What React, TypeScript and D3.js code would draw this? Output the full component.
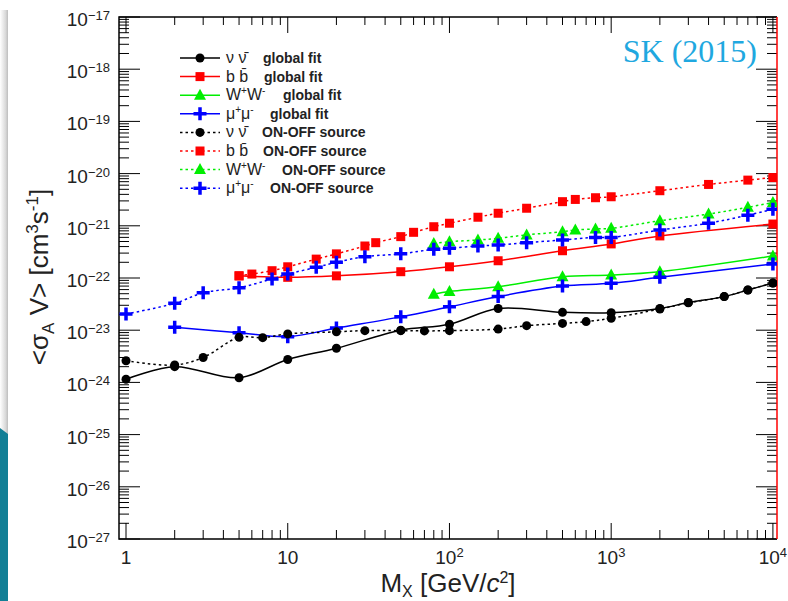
import React from "react";
import * as d3 from "d3";

// masses in GeV/c^2, cross sections in cm^3 s^-1
const massNuFit = [1, 2, 5, 10, 20, 50, 100, 200, 500, 1000, 2000, 3000, 5000, 7000, 10000];
const nuFit = [1.15e-24, 2.0e-24, 1.23e-24, 2.75e-24, 4.5e-24, 1.0e-23, 1.3e-23, 2.6e-23, 2.2e-23, 2.16e-23, 2.6e-23, 3.4e-23, 4.4e-23, 5.9e-23, 8.0e-23];

const massBFit = [5, 10, 20, 50, 100, 200, 500, 1000, 2000, 10000];
const bFit = [1.1e-22, 1.03e-22, 1.1e-22, 1.32e-22, 1.64e-22, 2.14e-22, 3.33e-22, 4.5e-22, 6.4e-22, 1.08e-21];

const massWFit = [80, 100, 200, 500, 1000, 2000, 10000];
const wFit = [4.9e-23, 5.5e-23, 6.8e-23, 1.06e-22, 1.14e-22, 1.32e-22, 2.64e-22];

const massMuFit = [2, 5, 10, 20, 50, 100, 200, 500, 1000, 2000, 10000];
const muFit = [1.14e-23, 8.95e-24, 7.5e-24, 1.1e-23, 1.8e-23, 2.8e-23, 4.4e-23, 7.0e-23, 7.9e-23, 1.03e-22, 1.85e-22];

const massNuOnOff = [1, 2, 3, 5, 7, 10, 20, 30, 50, 70, 100, 200, 300, 500, 700, 1000, 2000, 3000, 5000, 7000, 10000];
const nuOnOff = [2.6e-24, 2.15e-24, 3.0e-24, 7.3e-24, 7.2e-24, 8.5e-24, 9.3e-24, 9.8e-24, 9.8e-24, 9.7e-24, 9.8e-24, 1.05e-23, 1.22e-23, 1.35e-23, 1.46e-23, 1.69e-23, 2.55e-23, 3.35e-23, 4.4e-23, 5.9e-23, 8.0e-23];

const massBOnOff = [5, 6, 8, 10, 15, 20, 30, 35, 50, 60, 80, 100, 150, 200, 300, 500, 600, 800, 1000, 2000, 4000, 7000, 10000];
const bOnOff = [1.1e-22, 1.19e-22, 1.38e-22, 1.64e-22, 2.3e-22, 2.9e-22, 4.1e-22, 4.75e-22, 6.2e-22, 7.5e-22, 9.6e-22, 1.12e-21, 1.46e-21, 1.74e-21, 2.17e-21, 2.9e-21, 3.2e-21, 3.45e-21, 3.6e-21, 4.7e-21, 6.2e-21, 7.5e-21, 8.4e-21];

const massWOnOff = [80, 100, 150, 200, 300, 500, 600, 800, 1000, 2000, 4000, 7000, 10000];
const wOnOff = [4.6e-22, 4.96e-22, 5.35e-22, 5.75e-22, 6.7e-22, 7.7e-22, 8.3e-22, 8.7e-22, 8.95e-22, 1.25e-21, 1.68e-21, 2.26e-21, 2.8e-21];

const massMuOnOff = [1, 2, 3, 5, 8, 10, 15, 20, 30, 50, 80, 100, 150, 200, 300, 500, 800, 1000, 2000, 4000, 7000, 10000];
const muOnOff = [2.04e-23, 3.27e-23, 5.2e-23, 6.5e-23, 9.6e-23, 1.19e-22, 1.6e-22, 2.0e-22, 2.56e-22, 2.9e-22, 3.55e-22, 3.7e-22, 4.1e-22, 4.3e-22, 4.75e-22, 5.35e-22, 6.0e-22, 6.0e-22, 8.3e-22, 1.12e-21, 1.6e-21, 2.07e-21];

const particles = ["ν ν̄", "b b̄", "W+W-", "μ+μ-"];
const fitLabel = "global fit";
const onOffLabel = "ON-OFF source";
const xTickPowers = [0, 1, 2, 3, 4];
const yTickPowers = [-27, -26, -25, -24, -23, -22, -21, -20, -19, -18, -17];

const W = 788, H = 601;
const left = 119, right = 777, top = 17, bottom = 539;

const x = d3.scaleLog().domain([0.905, 10600]).range([left, right]);
const y = d3.scaleLog().domain([1e-27, 1e-17]).range([bottom, top]);

type MarkerType = "circle" | "square" | "triangle" | "plus";

const colors = ["#000000", "#ff0000", "#00ee00", "#0000ff"];
const markers: MarkerType[] = ["circle", "square", "triangle", "plus"];

const fitSeries = [
  { m: massNuFit, v: nuFit },
  { m: massBFit, v: bFit },
  { m: massWFit, v: wFit },
  { m: massMuFit, v: muFit },
];
const onOffSeries = [
  { m: massNuOnOff, v: nuOnOff },
  { m: massBOnOff, v: bOnOff },
  { m: massWOnOff, v: wOnOff },
  { m: massMuOnOff, v: muOnOff },
];

const series = [
  ...fitSeries.map((s, i) => ({ ...s, color: colors[i], marker: markers[i], dotted: false, i })),
  ...onOffSeries.map((s, i) => ({ ...s, color: colors[i], marker: markers[i], dotted: true, i })),
];

const line = d3
  .line<[number, number]>()
  .x((d) => x(d[0]))
  .y((d) => y(d[1]))
  .curve(d3.curveCatmullRom.alpha(0.5));

const Marker = ({ type, cx, cy, color }: { type: MarkerType; cx: number; cy: number; color: string }) => {
  if (type === "circle") return <circle cx={cx} cy={cy} r={4.5} fill={color} />;
  if (type === "square") return <rect x={cx - 4.5} y={cy - 4.5} width={9} height={9} fill={color} />;
  if (type === "triangle")
    return <path d={`M${cx},${cy - 6.5}L${cx + 6},${cy + 4.5}L${cx - 6},${cy + 4.5}Z`} fill={color} />;
  return (
    <path d={`M${cx - 6.5},${cy}H${cx + 6.5}M${cx},${cy - 6.5}V${cy + 6.5}`} stroke={color} strokeWidth={3.5} />
  );
};

const ParticleLabel = ({ name }: { name: string }) => {
  if (name.includes("+")) {
    const base = name[0];
    return (
      <>
        <tspan>{base}</tspan>
        <tspan dy={-6} fontSize={10}>+</tspan>
        <tspan dy={6}>{base}</tspan>
        <tspan dy={-6} fontSize={10}>-</tspan>
        <tspan dy={6}></tspan>
      </>
    );
  }
  return <tspan>{name}</tspan>;
};

const App = () => {
  const font = "'Liberation Sans', Arial, Helvetica, sans-serif";

  // log ticks
  const xMinor: number[] = [];
  for (let p = 0; p < 4; p++) for (let k = 2; k <= 9; k++) xMinor.push(k * Math.pow(10, p));
  const yMinor: number[] = [];
  for (let p = -27; p < -17; p++) for (let k = 2; k <= 9; k++) yMinor.push(k * Math.pow(10, p));

  const legendY0 = 58, legendStep = 18.6;
  const descX = [263, 264, 283, 270];
  const descXOn = [262, 263, 282, 270];

  return (
    <svg width={W} height={H} style={{ position: "absolute", left: 0, top: 0, background: "#fff" }} fontFamily={font}>
      <defs>
        <linearGradient id="shadow" x1="0" x2="1" y1="0" y2="0">
          <stop offset="0" stopColor="#ffffff" />
          <stop offset="0.7" stopColor="#d9d9d9" />
          <stop offset="1" stopColor="#bdbdbd" />
        </linearGradient>
        <clipPath id="plotClip">
          <rect x={left} y={top} width={right - left} height={bottom - top} />
        </clipPath>
      </defs>
      <rect x={0} y={0} width={W} height={H} fill="#fff" />
      <rect x={0} y={10} width={8} height={425} fill="url(#shadow)" />
      <path d="M0,428L8,434L8,601L0,601Z" fill="#127f96" />

      {/* ticks */}
      <g stroke="#000" strokeWidth={1}>
        {yTickPowers.map((p) => {
          const yy = y(Math.pow(10, p));
          return (
            <g key={"yt" + p}>
              <line x1={left} x2={left + 21} y1={yy} y2={yy} />
              <line x1={right} x2={right - 21} y1={yy} y2={yy} />
            </g>
          );
        })}
        {yMinor.map((v, i) => (
          <g key={"ym" + i}>
            <line x1={left} x2={left + 10} y1={y(v)} y2={y(v)} />
            <line x1={right} x2={right - 10} y1={y(v)} y2={y(v)} />
          </g>
        ))}
        {xTickPowers.map((p) => {
          const xx = x(Math.pow(10, p));
          return (
            <g key={"xt" + p}>
              <line x1={xx} x2={xx} y1={bottom} y2={bottom - 16} />
              <line x1={xx} x2={xx} y1={top} y2={top + 16} />
            </g>
          );
        })}
        {xMinor.map((v, i) => (
          <g key={"xm" + i}>
            <line x1={x(v)} x2={x(v)} y1={bottom} y2={bottom - 9} />
            <line x1={x(v)} x2={x(v)} y1={top} y2={top + 8} />
          </g>
        ))}
      </g>

      {/* frame */}
      <path d={`M${right},${top}H${left}V${bottom}H${right}`} fill="none" stroke="#000" strokeWidth={1.5} />
      <line x1={right} x2={right} y1={top} y2={bottom} stroke="#ff0000" strokeWidth={1.5} />

      {/* curves */}
      <g clipPath="url(#plotClip)">
        {series.map((s, k) => (
          <path
            key={"l" + k}
            d={line(s.m.map((m, j) => [m, s.v[j]] as [number, number])) || ""}
            fill="none"
            stroke={s.color}
            strokeWidth={1.5}
            strokeDasharray={s.dotted ? "2.5,3" : undefined}
          />
        ))}
        {series.map((s, k) => (
          <g key={"m" + k}>
            {s.m.map((m, j) => (
              <Marker key={j} type={s.marker} cx={x(m)} cy={y(s.v[j])} color={s.color} />
            ))}
          </g>
        ))}
      </g>

      {/* y tick labels */}
      {yTickPowers.map((p) => (
        <text key={"yl" + p} x={110} y={y(Math.pow(10, p)) + 9} textAnchor="end" fontSize={19} fill="#222">
          <tspan>10</tspan>
          <tspan dy={-6} fontSize={13}>{"−" + Math.abs(p)}</tspan>
        </text>
      ))}

      {/* x tick labels */}
      {xTickPowers.map((p) => (
        <text key={"xl" + p} x={x(Math.pow(10, p))} y={564} textAnchor="middle" fontSize={19} fill="#222">
          {p === 0 ? "1" : p === 1 ? "10" : (
            <>
              <tspan>10</tspan>
              <tspan dy={-7} fontSize={13}>{p}</tspan>
            </>
          )}
        </text>
      ))}

      {/* axis titles */}
      <text x={448} y={592} textAnchor="middle" fontSize={26} fill="#222">
        <tspan>M</tspan>
        <tspan dy={5} fontSize={16}>X</tspan>
        <tspan dy={-5}> [GeV/</tspan>
        <tspan fontStyle="italic">c</tspan>
        <tspan dy={-9} fontSize={16}>2</tspan>
        <tspan dy={9}>]</tspan>
      </text>
      <text transform="translate(48,277) rotate(-90)" textAnchor="middle" fontSize={26} fill="#222">
        <tspan>{"<σ"}</tspan>
        <tspan dy={6} fontSize={17}>A</tspan>
        <tspan dy={-6}>{" V> [cm"}</tspan>
        <tspan dy={-10} fontSize={17}>3</tspan>
        <tspan dy={10}>s</tspan>
        <tspan dy={-10} fontSize={17}>-1</tspan>
        <tspan dy={10}>]</tspan>
      </text>

      {/* legend */}
      {series.map((s, k) => {
        const ly = legendY0 + k * legendStep;
        return (
          <g key={"lg" + k}>
            <line
              x1={180}
              x2={220}
              y1={ly}
              y2={ly}
              stroke={s.color}
              strokeWidth={1.5}
              strokeDasharray={s.dotted ? "2.5,3" : undefined}
            />
            <Marker type={s.marker} cx={200} cy={ly} color={s.color} />
            <text x={226} y={ly + 5} fontSize={16} fill="#222">
              <ParticleLabel name={particles[s.i]} />
            </text>
            <text x={s.dotted ? descXOn[s.i] : descX[s.i]} y={ly + 5} fontSize={14} fontWeight="bold" fill="#222">
              {s.dotted ? onOffLabel : fitLabel}
            </text>
          </g>
        );
      })}

      <text x={757} y={62} textAnchor="end" fontSize={32} fill="#1fa8e0" fontFamily="'Liberation Serif', 'DejaVu Serif', serif">
        SK (2015)
      </text>
    </svg>
  );
};

export default App;
